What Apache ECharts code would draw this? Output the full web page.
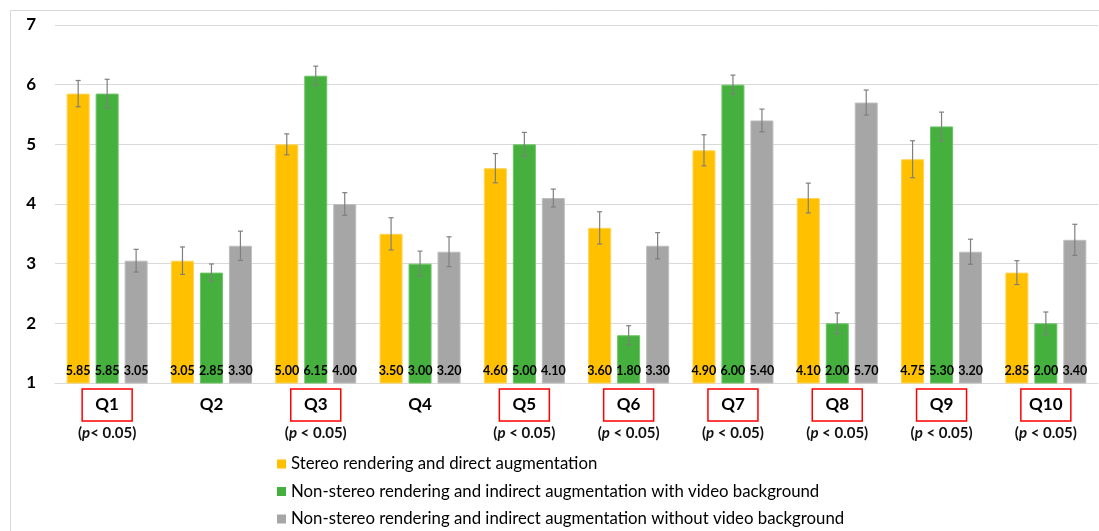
<!DOCTYPE html>
<html>
<head>
<meta charset="utf-8">
<script src="https://cdn.jsdelivr.net/npm/echarts@6/dist/echarts.min.js"></script>
<style>
  html, body { margin: 0; padding: 0; background: #fff; }
  #chart { width: 1099px; height: 531px; }
</style>
</head>
<body>
<div id="chart"></div>
<script>
// Questions and significance notes under each question
const categories = ['Q1', 'Q2', 'Q3', 'Q4', 'Q5', 'Q6', 'Q7', 'Q8', 'Q9', 'Q10'];
const significance = ['(p< 0.05)', '', '(p < 0.05)', '', '(p < 0.05)', '(p < 0.05)', '(p < 0.05)', '(p < 0.05)', '(p < 0.05)', '(p < 0.05)'];

const seriesNames = [
  'Stereo rendering and direct augmentation',
  'Non-stereo rendering and indirect augmentation with video background',
  'Non-stereo rendering and indirect augmentation without video background'
];

// Mean scores
const stereoDirect = [5.85, 3.05, 5.00, 3.50, 4.60, 3.60, 4.90, 4.10, 4.75, 2.85];
const monoVideo    = [5.85, 2.85, 6.15, 3.00, 5.00, 1.80, 6.00, 2.00, 5.30, 2.00];
const monoNoVideo  = [3.05, 3.30, 4.00, 3.20, 4.10, 3.30, 5.40, 5.70, 3.20, 3.40];

// Standard errors
const stereoDirectErr = [0.22, 0.23, 0.175, 0.27, 0.245, 0.27, 0.26, 0.25, 0.31, 0.20];
const monoVideoErr    = [0.24, 0.145, 0.16, 0.21, 0.20, 0.16, 0.16, 0.175, 0.24, 0.19];
const monoNoVideoErr  = [0.19, 0.245, 0.19, 0.25, 0.15, 0.22, 0.19, 0.21, 0.21, 0.26];

const yTicks = { min: 1, max: 7, interval: 1 };

const colors = ['#FFC000', '#45B03D', '#A6A6A6'];
const borders = ['#FFD454', '#6CC465', '#BDBDBD'];
const FONT = 'Lato, "Open Sans", sans-serif';

const BAR_W = 23;
const BAR_GAP = 0.26;   // fraction of bar width between bars of one group

const means = [stereoDirect, monoVideo, monoNoVideo];
const errs = [stereoDirectErr, monoVideoErr, monoNoVideoErr];

function barOffset(i) {
  const gapPx = BAR_W * BAR_GAP;
  const total = 3 * BAR_W + 2 * gapPx;
  return -total / 2 + BAR_W / 2 + i * (BAR_W + gapPx);
}

const barSeries = means.map((vals, i) => ({
  name: seriesNames[i],
  type: 'bar',
  data: vals,
  barWidth: BAR_W,
  barGap: (BAR_GAP * 100) + '%',
  itemStyle: { color: colors[i], borderColor: borders[i], borderWidth: 1 },
  label: {
    show: true,
    position: 'insideBottom',
    distance: 6,
    formatter: p => p.value.toFixed(2),
    fontFamily: FONT,
    fontWeight: 'bold',
    fontSize: 12.5,
    color: '#000'
  },
  z: 2
}));

const errorSeries = means.map((vals, i) => ({
  name: seriesNames[i] + ' error',
  type: 'custom',
  data: vals.map((v, k) => [k, v, errs[i][k]]),
  z: 5,
  silent: true,
  renderItem: function (params, api) {
    const c = api.value(0), v = api.value(1), e = api.value(2);
    const top = api.coord([c, v + e]);
    const bot = api.coord([c, v - e]);
    const x = top[0] + barOffset(i);
    const cap = 2.5;
    const style = { stroke: '#7F7F7F', lineWidth: 1.2 };
    return {
      type: 'group',
      children: [
        { type: 'line', shape: { x1: x, y1: top[1], x2: x, y2: bot[1] }, style },
        { type: 'line', shape: { x1: x - cap, y1: top[1], x2: x + cap, y2: top[1] }, style },
        { type: 'line', shape: { x1: x - cap, y1: bot[1], x2: x + cap, y2: bot[1] }, style }
      ]
    };
  }
}));

const chart = echarts.init(document.getElementById('chart'), null, { renderer: 'canvas' });

chart.setOption({
  animation: false,
  backgroundColor: '#fff',
  textStyle: { fontFamily: FONT },
  graphic: [{
    type: 'rect',
    shape: { x: 10.5, y: 10.5, width: 1100, height: 600 },
    style: { fill: 'none', stroke: '#D9D9D9', lineWidth: 1 },
    silent: true
  }],
  grid: { left: 55, right: 1, top: 25, bottom: 148, containLabel: false },
  legend: {
    data: seriesNames,
    orient: 'vertical',
    left: 277,
    top: 455,
    padding: 0,
    itemWidth: 9,
    itemHeight: 9,
    itemGap: 9.5,
    icon: 'rect',
    itemStyle: { borderWidth: 0 },
    textStyle: { fontFamily: FONT, fontSize: 16.8, color: '#000', lineHeight: 18 }
  },
  xAxis: {
    type: 'category',
    data: categories,
    axisLine: { lineStyle: { color: '#D9D9D9', width: 1 } },
    axisTick: { show: false },
    axisLabel: {
      interval: 0,
      margin: 5,
      formatter: function (value, idx) {
        const sig = significance[idx];
        if (!sig) return '{plain|' + value + '}';
        return '{box|' + value + '}\n{pa|(}{pi|p}{pa|' + sig.slice(2) + '}';
      },
      rich: {
        box: {
          width: 50, height: 32, align: 'center',
          borderColor: '#FF0000', borderWidth: 1.5,
          fontFamily: FONT, fontSize: 17, fontWeight: 'bold', color: '#000',
          lineHeight: 34
        },
        plain: {
          width: 50, height: 32, align: 'center',
          fontFamily: FONT, fontSize: 17, fontWeight: 'bold', color: '#000',
          lineHeight: 34
        },
        pa: { fontFamily: FONT, fontSize: 15, fontWeight: 'bold', color: '#111', lineHeight: 22 },
        pi: { fontFamily: FONT, fontSize: 15, fontWeight: 'bold', fontStyle: 'italic', color: '#111', lineHeight: 22 }
      }
    }
  },
  yAxis: {
    type: 'value',
    min: yTicks.min,
    max: yTicks.max,
    interval: yTicks.interval,
    axisLine: { show: false },
    axisTick: { show: false },
    splitLine: { lineStyle: { color: '#D9D9D9', width: 1 } },
    axisLabel: { margin: 19, fontFamily: FONT, fontSize: 17, fontWeight: 'bold', color: '#000' }
  },
  series: [...barSeries, ...errorSeries]
});
</script>
</body>
</html>
